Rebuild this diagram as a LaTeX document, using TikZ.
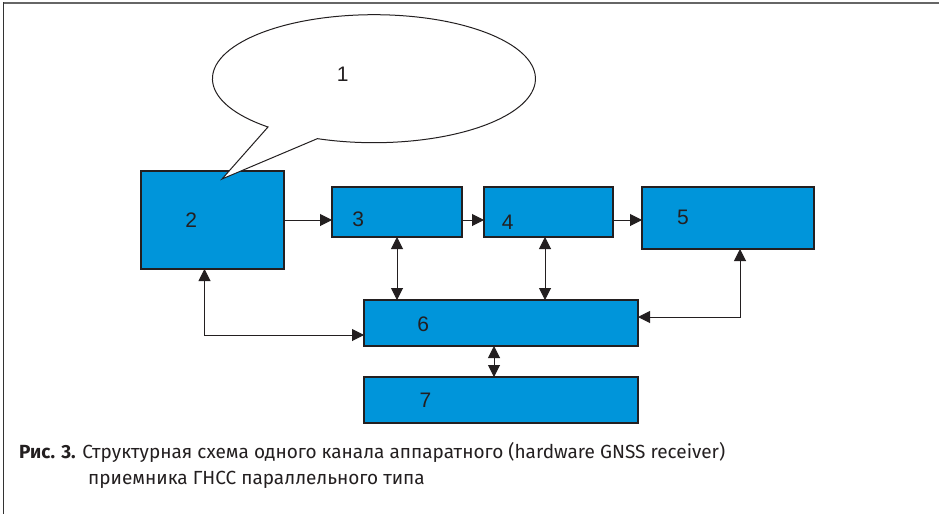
\documentclass[tikz,border=0pt]{standalone}
\usepackage{fontspec}
\setmainfont{Liberation Sans}
\newfontfamily\capfont{Fira Sans}
\usetikzlibrary{arrows.meta,calc}
\definecolor{boxblue}{RGB}{0,149,218}
\definecolor{edge}{RGB}{35,31,32}
\begin{document}
\begin{tikzpicture}[x=1pt,y=-1pt,
  blk/.style={draw=edge,line width=1.2pt,fill=boxblue,inner sep=0pt,outer sep=0pt},
  num/.style={inner sep=0pt,font=\fontsize{21}{21}\selectfont,text=edge},
  conn/.style={draw=edge,line width=1pt,{Triangle[length=12pt,width=12pt]}-{Triangle[length=12pt,width=12pt]}},
  fwd/.style={draw=edge,line width=1pt,-{Triangle[length=12pt,width=12pt]}},
  captxt/.style={inner sep=0pt,anchor=base west,font=\capfont\fontsize{19}{19}\selectfont,text=edge}]
\useasboundingbox (0,0) rectangle (939,514);
\fill[white] (0,0) rectangle (939,514);
% frame
\draw[color=black!60,line width=2pt] (3,3) -- (939,3);
\draw[color=black!80,line width=1.4pt] (3.7,2) -- (3.7,514);
% boxes
\node[blk,minimum width=143pt,minimum height=98pt] (b2) at (212.5,220) {};
\node[blk,minimum width=130pt,minimum height=50pt] (b3) at (397,212) {};
\node[blk,minimum width=129pt,minimum height=50pt] (b4) at (548.5,212) {};
\node[blk,minimum width=172pt,minimum height=62pt] (b5) at (728,218) {};
\node[blk,minimum width=274pt,minimum height=46pt] (b6) at (501,323) {};
\node[blk,minimum width=274pt,minimum height=46pt] (b7) at (501,400) {};
% callout
\draw[edge,fill=white,line width=1pt] (268,127) arc[start angle=131,end angle=470.5,x radius=161.5,y radius=64] -- (222,179) -- cycle;
% labels
\node[num] (l1) at (342.7,74.7) {1};
\node[num] (l2) at (191.3,220) {2};
\node[num] (l3) at (358.3,219.2) {3};
\node[num] (l4) at (507.8,222.2) {4};
\node[num] (l5) at (683,217) {5};
\node[num] (l6) at (423.3,324.7) {6};
\node[num] (l7) at (425.5,400.5) {7};
% connector end points
\coordinate (p4) at ($(b4.south)+(-3.5,0)$);
\coordinate (p4b) at (p4 |- b6.north);
\coordinate (p2) at ($(b2.south)+(-8,0)$);
\coordinate (p6w) at ($(b6.west)+(0,12)$);
\coordinate (p5) at ($(b5.south)+(12,0)$);
\coordinate (p6e) at ($(b6.east)+(0,-6)$);
\coordinate (p6s) at ($(b6.south)+(-7,0)$);
\coordinate (p7n) at ($(b7.north)+(-7,0)$);
% connectors
\draw[fwd] (b2.east) -- (b3.west |- b2.east);
\draw[fwd] (b3.east |- b2.east) -- (b4.west |- b2.east);
\draw[fwd] (b4.east |- b2.east) -- (b5.west |- b2.east);
\draw[conn] (b3.south) -- (b3.south |- b6.north);
\draw[conn] (p4) -- (p4b);
\draw[conn] (p2) |- (p6w);
\draw[conn] (p5) |- (p6e);
\draw[conn] (p6s) -- (p7n);
% caption
\node[captxt] (cap1) at (19,458.5) {\textbf{Рис. 3.} Структурная схема одного канала аппаратного (hardware GNSS receiver)};
\node[captxt] (cap2) at (88,484) {приемника ГНСС параллельного типа};
\end{tikzpicture}
\end{document}
